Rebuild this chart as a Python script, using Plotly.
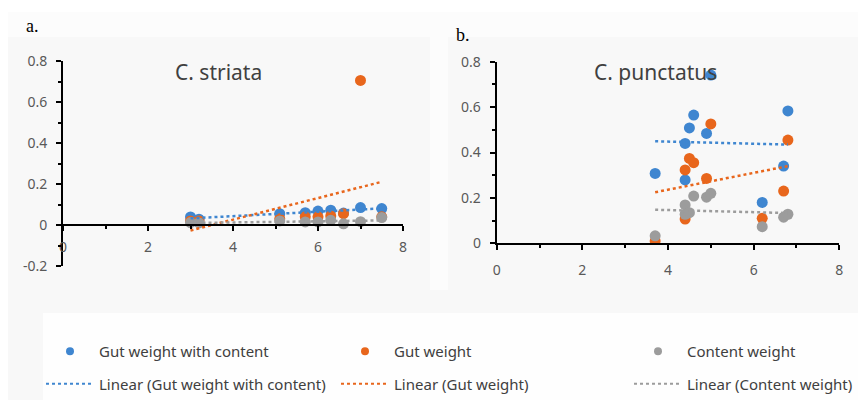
import numpy as np
import plotly.graph_objects as go

# ---------------- data ----------------
striata_len = [3.0, 3.2, 5.1, 5.7, 6.0, 6.3, 6.6, 7.0, 7.5]
striata_gut_content = [0.039, 0.028, 0.055, 0.060, 0.068, 0.072, 0.058, 0.085, 0.080]
striata_gut = [0.020, 0.020, 0.030, 0.040, 0.040, 0.044, 0.055, 0.705, 0.040]
striata_content = [0.012, 0.010, 0.020, 0.015, 0.015, 0.023, 0.006, 0.016, 0.036]

punctatus_len = [3.7, 4.4, 4.4, 4.5, 4.6, 4.9, 5.0, 6.2, 6.7, 6.8]
punctatus_gut_content = [0.308, 0.440, 0.279, 0.508, 0.565, 0.484, 0.741, 0.180, 0.340, 0.583]
punctatus_gut = [0.010, 0.323, 0.107, 0.374, 0.355, 0.286, 0.526, 0.110, 0.230, 0.455]
punctatus_content = [0.033, 0.169, 0.128, 0.135, 0.208, 0.203, 0.220, 0.073, 0.115, 0.128]

series_names = ["Gut weight with content", "Gut weight", "Content weight"]
panel_titles = ["C. striata", "C. punctatus"]
panel_labels = ["a.", "b."]
x_ticks = [0, 2, 4, 6, 8]
y_ticks_a = [-0.2, 0, 0.2, 0.4, 0.6, 0.8]
y_ticks_b = [0, 0.2, 0.4, 0.6, 0.8]

colors = ["#3f86d0", "#e8661c", "#9c9c9c"]

W, H = 858, 400


def px_x(p):
    return p / W


def px_y(p):
    return 1 - p / H


fig = go.Figure()

panels = [
    (striata_len, [striata_gut_content, striata_gut, striata_content], "x", "y"),
    (punctatus_len, [punctatus_gut_content, punctatus_gut, punctatus_content], "x2", "y2"),
]
legend_ids = ["legend", "legend2", "legend3"]

# legend-only entries (small symbols like the reference legend)
for si, name in enumerate(series_names):
    fig.add_trace(go.Scatter(
        x=[None], y=[None], mode="markers", name=name, legendgroup="m%d" % si,
        legend=legend_ids[si], showlegend=True,
        marker=dict(color=colors[si], size=8),
    ))
    fig.add_trace(go.Scatter(
        x=[None], y=[None], mode="lines", name="Linear (%s)" % name, legendgroup="l%d" % si,
        legend=legend_ids[si], showlegend=True,
        line=dict(color=colors[si], width=2, dash="dot"),
    ))

for pi, (xs, ys_list, xa, ya) in enumerate(panels):
    for si, ys in enumerate(ys_list):
        fig.add_trace(go.Scatter(
            x=xs, y=ys, mode="markers", xaxis=xa, yaxis=ya,
            name=series_names[si], legendgroup="m%d" % si,
            legend=legend_ids[si], showlegend=False,
            marker=dict(color=colors[si], size=11),
        ))
    for si, ys in enumerate(ys_list):
        slope, icpt = np.polyfit(xs, ys, 1)
        lx = [min(xs), max(xs)]
        ly = [icpt + slope * v for v in lx]
        fig.add_trace(go.Scatter(
            x=lx, y=ly, mode="lines", xaxis=xa, yaxis=ya,
            name="Linear (%s)" % series_names[si], legendgroup="l%d" % si,
            legend=legend_ids[si], showlegend=False,
            line=dict(color=colors[si], width=2.5, dash="dot"),
        ))

tickfont = dict(family="Noto Sans", size=14, color="#595959")
common_axis = dict(showline=True, linecolor="black", linewidth=2, ticks="outside",
                   ticklen=5, tickwidth=2, tickcolor="black", showgrid=False,
                   zeroline=False, tickfont=tickfont,
                   minor=dict(ticks="outside", ticklen=3, tickcolor="black", tickwidth=1.5))

# panel a geometry
ax_l, ax_r = 63, 403
ay_t, ay_b = 61, 266
# panel b geometry
bx_l, bx_r = 496.7, 839.3
by_t, by_b = 61.7, 243.3

ya_dom = [px_y(ay_b), px_y(ay_t)]
x_pos_a = ya_dom[0] + (0 - (-0.2)) / 1.0 * (ya_dom[1] - ya_dom[0])

fig.update_layout(
    width=W, height=H,
    margin=dict(l=0, r=0, t=0, b=0, autoexpand=False),
    paper_bgcolor="white", plot_bgcolor="rgba(0,0,0,0)",
    xaxis=dict(domain=[px_x(ax_l), px_x(ax_r)], range=[0, 8], anchor="free",
               position=x_pos_a, tickvals=x_ticks, ticktext=[str(v) for v in x_ticks],
               ticklabelstandoff=4, minor_dtick=1, **common_axis),
    yaxis=dict(domain=ya_dom, range=[-0.2, 0.8], anchor="x",
               tickvals=y_ticks_a, ticktext=["-0.2", "0", "0.2", "0.4", "0.6", "0.8"],
               ticklabelstandoff=6, minor_dtick=0.1, **common_axis),
    xaxis2=dict(domain=[px_x(bx_l), px_x(bx_r)], range=[0, 8], anchor="y2",
                tickvals=x_ticks, ticktext=[str(v) for v in x_ticks],
                ticklabelstandoff=8, minor_dtick=1, **common_axis),
    yaxis2=dict(domain=[px_y(by_b), px_y(by_t)], range=[0, 0.8], anchor="x2",
                tickvals=y_ticks_b, ticktext=["0", "0.2", "0.4", "0.6", "0.8"],
                ticklabelstandoff=6, minor_dtick=0.1, **common_axis),
    showlegend=True,
)

legend_font = dict(family="Noto Sans", size=15, color="#404040")
leg_x_px = [41, 336, 629]
for i, lid in enumerate(legend_ids):
    fig.update_layout({lid: dict(
        x=px_x(leg_x_px[i]), y=px_y(335), xanchor="left", yanchor="top",
        orientation="v", bgcolor="rgba(0,0,0,0)", font=legend_font,
        tracegroupgap=10, traceorder="grouped", itemsizing="trace", itemwidth=48,
    )})

# background panels
shapes = [
    dict(type="rect", xref="paper", yref="paper", x0=px_x(8), x1=1, y0=0, y1=px_y(12),
         fillcolor="#f8f8f8", line=dict(width=0), layer="below"),
    dict(type="rect", xref="paper", yref="paper", x0=px_x(8), x1=px_x(430), y0=px_y(37), y1=px_y(12),
         fillcolor="#fcfcfc", line=dict(width=0), layer="below"),
    dict(type="rect", xref="paper", yref="paper", x0=px_x(448), x1=1, y0=px_y(37), y1=px_y(12),
         fillcolor="#fcfcfc", line=dict(width=0), layer="below"),
    dict(type="rect", xref="paper", yref="paper", x0=px_x(430), x1=px_x(448), y0=px_y(290), y1=px_y(12),
         fillcolor="#fcfcfc", line=dict(width=0), layer="below"),
    dict(type="rect", xref="paper", yref="paper", x0=px_x(43), x1=1, y0=0, y1=px_y(313),
         fillcolor="#fefefe", line=dict(width=0), layer="below"),
]
fig.update_layout(shapes=shapes)

title_font = dict(family="Noto Sans", size=21, color="#404040")
label_font = dict(family="Liberation Serif", size=18, color="black")
annotations = [
    dict(text=panel_titles[0], x=px_x(218), y=px_y(72), xref="paper", yref="paper",
         showarrow=False, font=title_font, xanchor="center", yanchor="middle"),
    dict(text=panel_titles[1], x=px_x(655), y=px_y(72), xref="paper", yref="paper",
         showarrow=False, font=title_font, xanchor="center", yanchor="middle"),
    dict(text=panel_labels[0], x=px_x(24), y=px_y(26), xref="paper", yref="paper",
         showarrow=False, font=label_font, xanchor="left", yanchor="middle"),
    dict(text=panel_labels[1], x=px_x(454), y=px_y(35), xref="paper", yref="paper",
         showarrow=False, font=label_font, xanchor="left", yanchor="middle"),
]
fig.update_layout(annotations=annotations)

fig.write_html("out.html", config={"displayModeBar": False},
               post_script="document.body.style.margin='0';")
